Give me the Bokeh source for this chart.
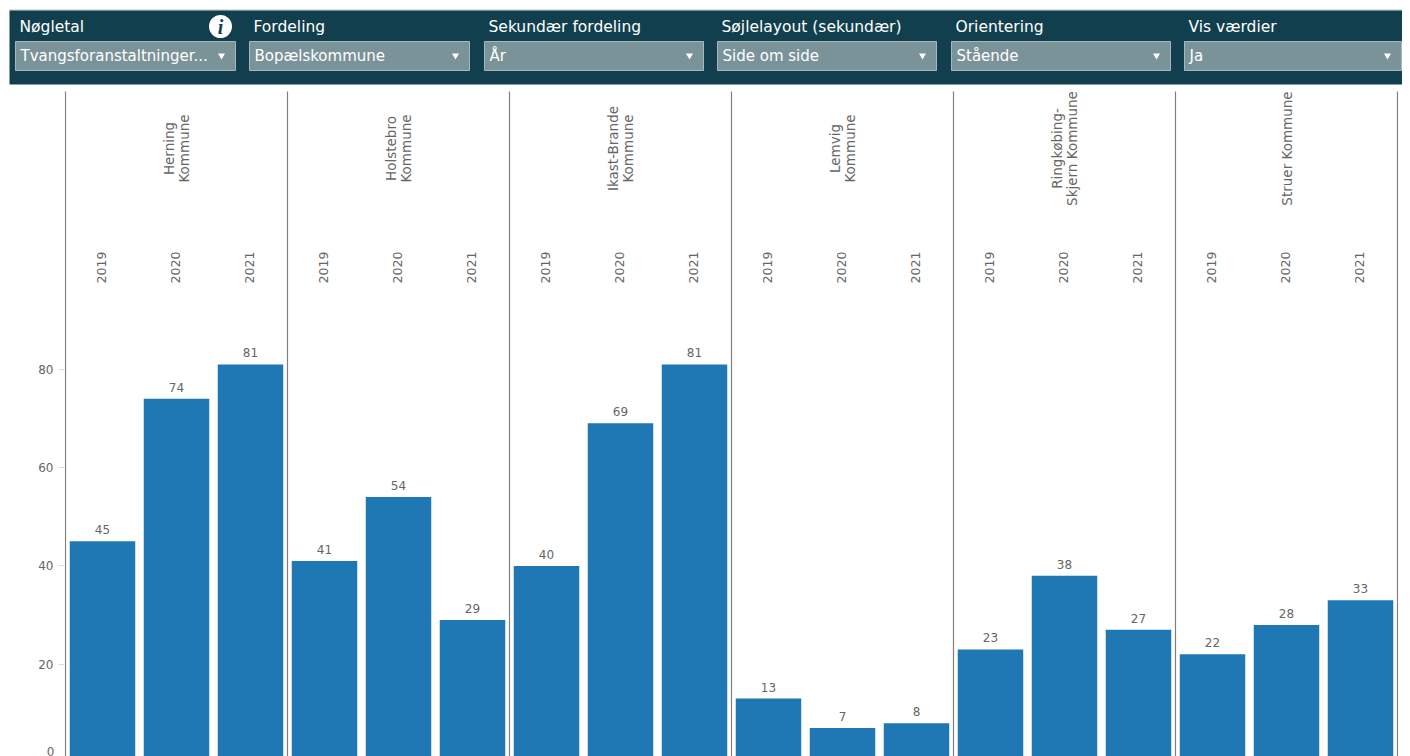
from bokeh.plotting import figure
from bokeh.models import ColumnDataSource, FactorRange, Range1d, Label, FixedTicker
from bokeh.transform import dodge
from bokeh.core.properties import value
from bokeh.embed import file_html
from bokeh.resources import INLINE
import math

municipalities = ["Herning Kommune", "Holstebro Kommune", "Ikast-Brande Kommune",
                  "Lemvig Kommune", "Ringkøbing-Skjern Kommune", "Struer Kommune"]
municipality_labels = ["Herning\nKommune", "Holstebro\nKommune", "Ikast-Brande\nKommune",
                       "Lemvig\nKommune", "Ringkøbing-\nSkjern Kommune", "Struer Kommune"]
years = ["2019", "2020", "2021"]
herning = [45, 74, 81]
holstebro = [41, 54, 29]
ikast = [40, 69, 81]
lemvig = [13, 7, 8]
ringkobing = [23, 38, 27]
struer = [22, 28, 33]
y_ticks = [20, 40, 60, 80]

filter_titles = ["Nøgletal", "Fordeling", "Sekundær fordeling",
                 "Søjlelayout (sekundær)", "Orientering", "Vis værdier"]
filter_values = ["Tvangsforanstaltninger...", "Bopælskommune", "År",
                 "Side om side", "Stående", "Ja"]

series = [herning, holstebro, ikast, lemvig, ringkobing, struer]
factors = [(m, y) for m in municipalities for y in years]
vals = [v for s in series for v in s]

W = 1402
TOP = 91
H = 756
FONT = "DejaVu Sans"
GREY = "#666666"
BAND = "#123f4d"

# ---- filter band: a figure whose range is the page's pixel grid
h = figure(width=W, height=TOP, x_range=Range1d(0, W), y_range=Range1d(TOP, 0), output_backend="svg",
           toolbar_location=None, x_axis_location=None, y_axis_location=None, min_border=0,
           outline_line_color=None)
h.grid.visible = False
h.quad(left=[9], right=[W], top=[9], bottom=[10], fill_color="#b5c4c8", line_color=None)
h.quad(left=[9], right=[W], top=[10], bottom=[84], fill_color=BAND, line_color=None)
lefts = [15, 249, 484, 717, 951, 1184]
rights = [235, 469, 703, 936, 1170, 1401]
h.quad(left=lefts, right=rights, top=[41] * 6, bottom=[70] * 6, fill_color="#7a9399",
       line_color="#a6b8bc", line_width=1)
h.text(x=[l + 4 for l in lefts], y=[26] * 6, text=filter_titles, text_font=value(FONT), text_font_size="15.5px",
       text_color="white", text_baseline="middle")
h.text(x=[l + 5 for l in lefts], y=[55.5] * 6, text=filter_values, text_font=value(FONT), text_font_size="15px",
       text_color="white", text_baseline="middle")
h.scatter(x=[r - 14 for r in rights], y=[55] * 6, marker="inverted_triangle", size=7, fill_color="white",
          line_color=None)
h.scatter(x=[220], y=[26], marker="circle", size=23, fill_color="white", line_color=None)
h.text(x=[220], y=[26], text=["i"], text_font=value("Liberation Serif"), text_font_size="20px",
       text_font_style="bold italic", text_color=BAND, text_align="center", text_baseline="middle")

# ---- chart
x_range = FactorRange(*factors, factor_padding=0, group_padding=0, subgroup_padding=0,
                      range_padding=0.0135, range_padding_units="absolute")
PX = 4.915
Y0 = 762.0
y_range = Range1d((Y0 - H) / PX, (Y0 - TOP) / PX)

p = figure(width=W, height=H - TOP, x_range=x_range, y_range=y_range, output_backend="svg",
           toolbar_location=None, x_axis_location=None, min_border_left=64, min_border_right=4,
           min_border_top=0, min_border_bottom=0, outline_line_color=None)
p.grid.visible = False
ax = p.yaxis[0]
ax.ticker = FixedTicker(ticks=y_ticks)
ax.axis_line_color = None
ax.major_tick_line_color = "#dddddd"
ax.major_tick_out = 6
ax.major_tick_in = 0
ax.minor_tick_line_color = None
ax.major_label_standoff = 5
ax.major_label_text_font = FONT
ax.major_label_text_font_size = "12px"
ax.major_label_text_color = GREY

src = ColumnDataSource(dict(x=factors, top=vals, bottom=[0] * len(vals), label=[str(v) for v in vals]))
p.vbar(x="x", top="top", bottom="bottom", width=0.885, source=src, fill_color="#1f77b4", line_color=None)
p.text(x="x", y="top", text="label", source=src, text_font=value(FONT), text_font_size="12px",
       text_color=GREY, text_align="center", text_baseline="bottom", y_offset=-7)

# panel separators
first = [(m, years[0]) for m in municipalities]
sep = ColumnDataSource(dict(x=first, y0=[0] * 6, y1=[200] * 6))
p.segment(x0=dodge("x", -0.5, range=x_range), x1=dodge("x", -0.5, range=x_range), y0="y0", y1="y1",
          source=sep, line_color="#808080", line_width=1.2)
end = ColumnDataSource(dict(x=[(municipalities[-1], years[-1])], y0=[0], y1=[200]))
p.segment(x0=dodge("x", 0.5, range=x_range), x1=dodge("x", 0.5, range=x_range), y0="y0", y1="y1",
          source=end, line_color="#808080", line_width=1.2)

# year and municipality headers
yr = ColumnDataSource(dict(x=factors, y=[(Y0 - 267) / PX] * 18, t=[f[1] for f in factors]))
p.text(x="x", y="y", text="t", source=yr, angle=math.pi / 2, text_font=value(FONT), text_font_size="12.5px",
       text_color=GREY, text_align="center", text_baseline="middle", x_offset=-1)
mu = ColumnDataSource(dict(x=[(m, years[1]) for m in municipalities], y=[(Y0 - 148) / PX] * 6, t=municipality_labels))
p.text(x="x", y="y", text="t", source=mu, angle=math.pi / 2, text_font=value(FONT), text_font_size="13.5px",
       text_color=GREY, text_align="center", text_baseline="middle", text_line_height=0.95)

# zero tick label: the zero line lies just below the page, its label is pulled up into view
p.add_layout(Label(x=54, x_units="canvas", y=0, text="0", text_align="right", text_baseline="middle",
                   y_offset=11, text_font=FONT, text_font_size="12px", text_color=GREY), "left")

open("out.html", "w").write(file_html((h, p), INLINE))
